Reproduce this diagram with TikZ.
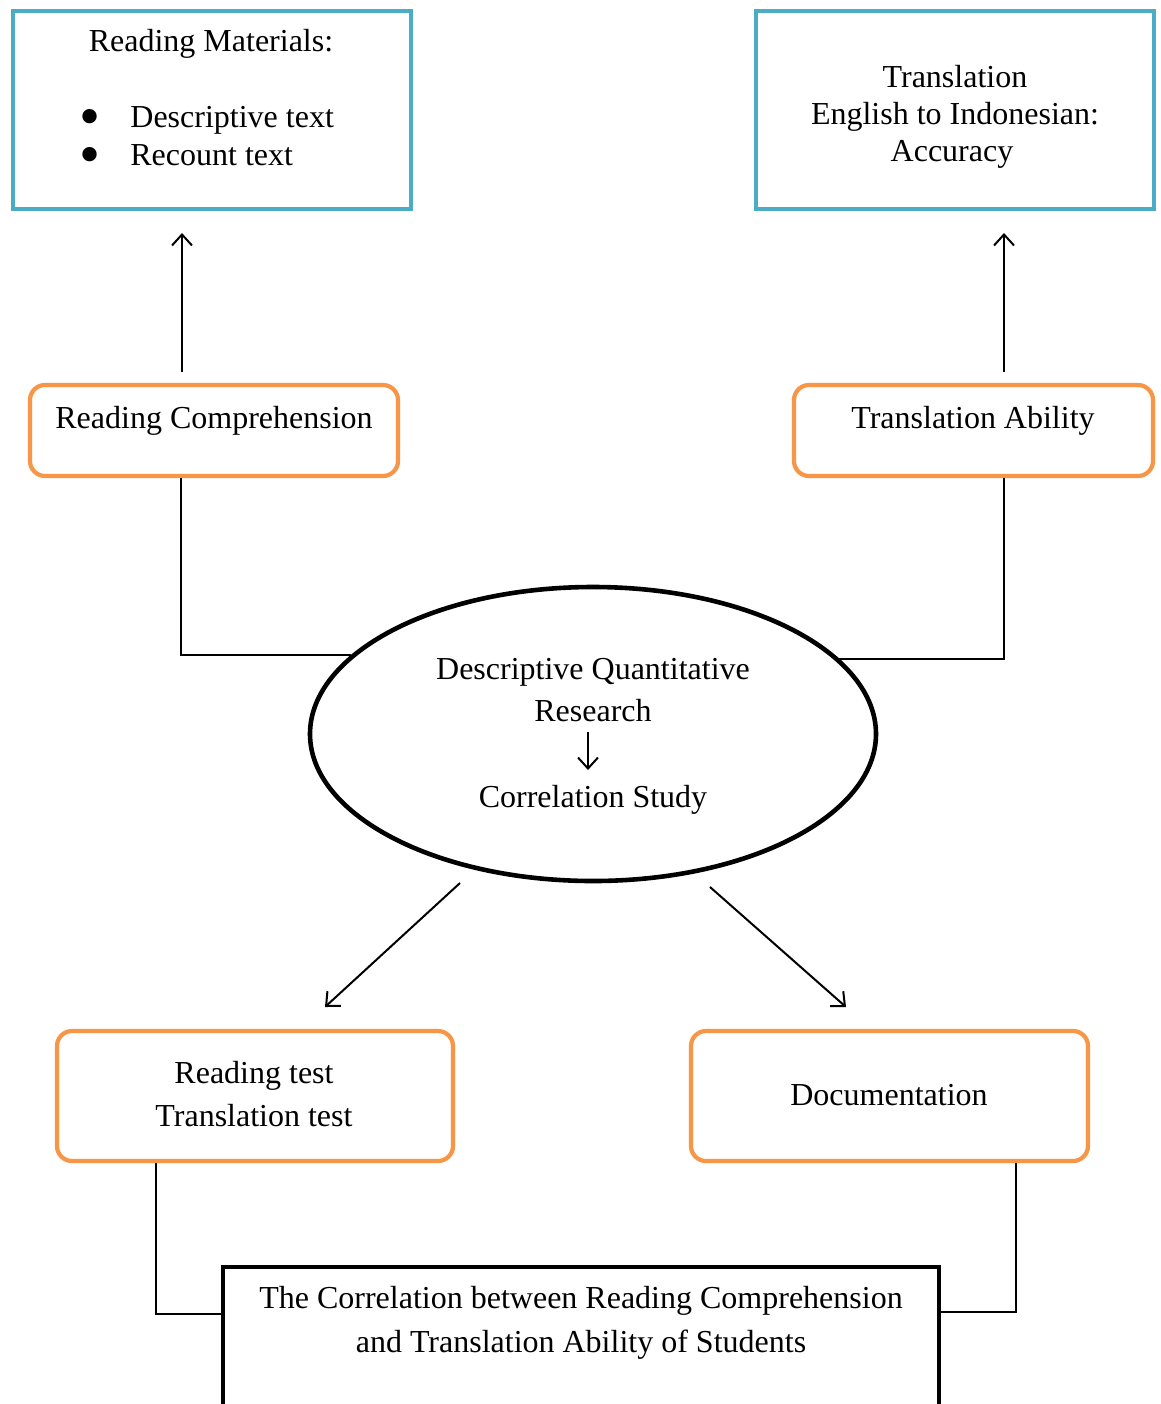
\documentclass[tikz,border=0pt]{standalone}
\usepackage{fontspec}
\setmainfont{Liberation Serif}
\usetikzlibrary{arrows.meta,shapes.geometric}
\definecolor{boxblue}{HTML}{4BACC6}
\definecolor{boxorange}{HTML}{F79646}
\newcommand{\bigbul}{\makebox[0pt]{\smash{\raisebox{-4.5pt}{\fontsize{30pt}{30pt}\selectfont\textbullet}}}\hspace{20pt}}
\begin{document}
\begin{tikzpicture}[x=0.5pt,y=-0.5pt,
  bluebox/.style={draw=boxblue, line width=2.1pt, rectangle, inner sep=0pt},
  orangebox/.style={draw=boxorange, line width=2.1pt, rectangle, rounded corners=7.5pt, inner sep=0pt},
  blackbox/.style={draw=black, line width=2.3pt, rectangle, inner sep=0pt},
  txt/.style={font=\fontsize{16pt}{18.5pt}\selectfont, anchor=base, inner sep=0pt},
  conn/.style={line width=1pt},
  arr/.style={line width=1pt, -{Straight Barb[length=5.5pt,width=10pt]}},
]
\clip (0,0) rectangle (1161,1404);
\fill[white] (0,0) rectangle (1161,1404);

% boxes
\node[bluebox, minimum width=199pt, minimum height=99pt] (rm) at (212,110) {};
\node[bluebox, minimum width=199pt, minimum height=99pt] (tr) at (955,110) {};
\node[orangebox, minimum width=184pt, minimum height=45.5pt] (rc) at (214,430.5) {};
\node[orangebox, minimum width=179.5pt, minimum height=45.5pt] (ta) at (973.5,430.5) {};
\node[ellipse, draw=black, line width=2.3pt, inner sep=0pt, minimum width=283pt, minimum height=147pt] (el) at (593,734) {};
\node[orangebox, minimum width=198pt, minimum height=65pt] (rt) at (255,1096) {};
\node[orangebox, minimum width=198.5pt, minimum height=65pt] (doc) at (889.5,1096) {};
\node[blackbox, minimum width=358pt, minimum height=100pt] (fin) at (581,1367) {};

% texts
\node[txt] (t1) at (211,51) {Reading Materials:};
\node[txt, anchor=base west] (t2) at (90,127) {\bigbul Descriptive text};
\node[txt, anchor=base west] (t3) at (90,165) {\bigbul Recount text};

\node[txt] (t4) at (955,87) {Translation};
\node[txt] (t5) at (955,124) {English to Indonesian:};
\node[txt] (t6) at (952,161) {Accuracy};

\node[txt] (t7) at (214,428) {Reading Comprehension};
\node[txt] (t8) at (973,428) {Translation Ability};

\node[txt] (t9) at (593,679) {Descriptive Quantitative};
\node[txt] (t10) at (593,721) {Research};
\node[txt] (t11) at (593,807) {Correlation Study};

\node[txt] (t12) at (254,1083) {Reading test};
\node[txt] (t13) at (254,1126) {Translation test};
\node[txt] (t14) at (889,1105) {Documentation};

\node[txt] (t15) at (581,1308) {The Correlation between Reading Comprehension};
\node[txt] (t16) at (581,1352) {and Translation Ability of Students};

% coordinates
\coordinate (ua1s) at (182,372);
\coordinate (ua1e) at (182,233);
\coordinate (ua2s) at (1004,372);
\coordinate (ua2e) at (1004,233);
\coordinate (rcx) at (181,0);
\coordinate (tax) at (1004,0);
\coordinate (ias) at (588,732);
\coordinate (iae) at (588,770);
\coordinate (d1s) at (460,883);
\coordinate (d1e) at (325,1007);
\coordinate (d2s) at (710,887);
\coordinate (d2e) at (846,1007);
\coordinate (lx) at (156,1314);
\coordinate (rx) at (1016,1312);

% connectors
\draw[arr] (ua1s) -- (ua1e);
\draw[arr] (ua2s) -- (ua2e);
\draw[conn] (rc.south -| rcx) |- (el.162);
\draw[conn] (ta.south -| tax) |- (el.17.3);
\draw[arr] (ias) -- (iae);
\draw[arr] (d1s) -- (d1e);
\draw[arr] (d2s) -- (d2e);
\draw[conn] (rt.south -| lx) |- (fin.west |- lx);
\draw[conn] (doc.south -| rx) |- (fin.east |- rx);
\end{tikzpicture}
\end{document}
